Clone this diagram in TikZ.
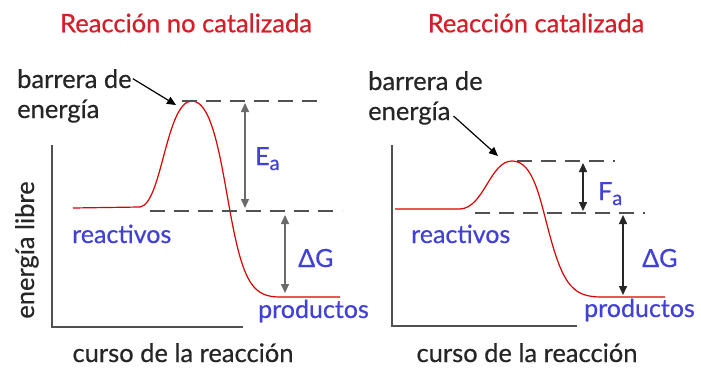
\documentclass[tikz,border=0pt]{standalone}
\usepackage{fontspec}
\setmainfont{Lato}[FakeBold=0.5]
\usepackage{tikz}
\usetikzlibrary{arrows.meta,positioning,calc}
\usepackage{xcolor}
\definecolor{titlered}{RGB}{215,30,40}
\definecolor{lblblue}{RGB}{65,65,215}
\definecolor{darkgray}{RGB}{80,80,80}

\tikzset{
  ttl/.style={text=titlered,font=\fontsize{25.5}{28}\selectfont,inner sep=0pt},
  note/.style={text=black!85,font=\fontsize{25.5}{28}\selectfont,inner sep=0pt},
  lbl/.style={text=lblblue,font=\fontsize{25}{28}\selectfont,inner sep=0pt},
  level/.style={darkgray,line width=1.7pt,dash pattern=on 15pt off 9pt},
  axis/.style={darkgray,line width=1.8pt},
  path/.style={red!85!black,line width=1.2pt},
  gap/.style={line width=1.5pt,{Triangle[length=9pt,width=8pt]}-{Triangle[length=9pt,width=8pt]}},
  pointer/.style={line width=1.2pt,-{Triangle[length=9pt,width=8pt]}}
}

\begin{document}
\begin{tikzpicture}[x=1pt,y=-1pt]
\useasboundingbox[fill=white] (0,0) rectangle (701,369);

% --- left: reaccion no catalizada ---
\node[ttl] (ttlL) at (186,23) {Reacción no catalizada};
\coordinate (oL) at (52,327);
\draw[axis] (52,145) -- (oL) -- (243,327);
\node[note,rotate=90,anchor=base] (yL) at (34,250) {energía libre};
\node[note,anchor=base] (xL) at (183,362) {curso de la reacción};

\coordinate (rL) at (73,208);
\coordinate (pkL) at (192,101);
\coordinate (prL) at (340,297);
\draw[path] (rL) -- (140,207) .. controls (162,204) and (166,101) .. (pkL)
  .. controls (214,101) and (222,170) .. (232,222)
  .. controls (244,284) and (254,297) .. (280,297) -- (prL);

\draw[level] (182,101) -- (318,101);
\draw[level] (150,211) -- (342,211);

\coordinate (eaTopL) at (245,103);
\coordinate (eaBotL) at (245,208);
\draw[gap,darkgray!85] (eaTopL) -- (eaBotL);
\coordinate (dgTopL) at (285,215);
\coordinate (dgBotL) at (285,293);
\draw[gap,darkgray!85] (dgTopL) -- (dgBotL);

\node[lbl,anchor=base west] (EaL) at (255,165) {\fontsize{25}{26}\selectfont E\raisebox{-5pt}{\fontsize{20}{20}\selectfont a}};
\node[lbl,anchor=base west] (dGL) at (298,267) {\fontsize{25}{26}\selectfont ΔG};
\node[lbl,anchor=base west] (reL) at (72,243) {reactivos};
\node[lbl,anchor=base west] (prodL) at (258,318) {productos};

\node[note,anchor=base west] (bar1L) at (17,88) {barrera de};
\node[note,anchor=base west] (bar2L) at (17,118) {energía};
\coordinate (tipL) at (176,105);
\draw[pointer] (bar1L.east) ++(1,0) coordinate (fromL) -- (tipL);

% --- right: reaccion catalizada ---
\node[ttl] (ttlR) at (536,23) {Reacción catalizada};
\coordinate (oR) at (392,326);
\draw[axis] (392,145) -- (oR) -- (577,326);
\node[note,anchor=base] (xR) at (527,362) {curso de la reacción};

\coordinate (rR) at (395,209);
\coordinate (pkR) at (512,161);
\coordinate (prR) at (665,297);
\draw[path] (rR) -- (460,209) .. controls (484,208) and (490,161) .. (pkR)
  .. controls (534,161) and (540,200) .. (550,236)
  .. controls (564,288) and (575,297) .. (602,297) -- (prR);

\draw[level] (517,161) -- (615,161);
\draw[level] (475,213) -- (645,213);

\coordinate (faTopR) at (583,163);
\coordinate (faBotR) at (583,211);
\draw[gap,black!85] (faTopR) -- (faBotR);
\coordinate (dgTopR) at (623,215);
\coordinate (dgBotR) at (623,295);
\draw[gap,black!85] (dgTopR) -- (dgBotR);

\node[lbl,anchor=base west] (FaR) at (598,200) {\fontsize{25}{26}\selectfont F\raisebox{-5pt}{\fontsize{20}{20}\selectfont a}};
\node[lbl,anchor=base west] (dGR) at (642,267) {\fontsize{25}{26}\selectfont ΔG};
\node[lbl,anchor=base west] (reR) at (411,243) {reactivos};
\node[lbl,anchor=base west] (prodR) at (584,317) {productos};

\node[note,anchor=base west] (bar1R) at (368,90) {barrera de};
\node[note,anchor=base west] (bar2R) at (368,120) {energía};
\coordinate (tipR) at (498,156);
\draw[pointer] (bar2R.east) ++(3,3) coordinate (fromR) -- (tipR);
\end{tikzpicture}
\end{document}
